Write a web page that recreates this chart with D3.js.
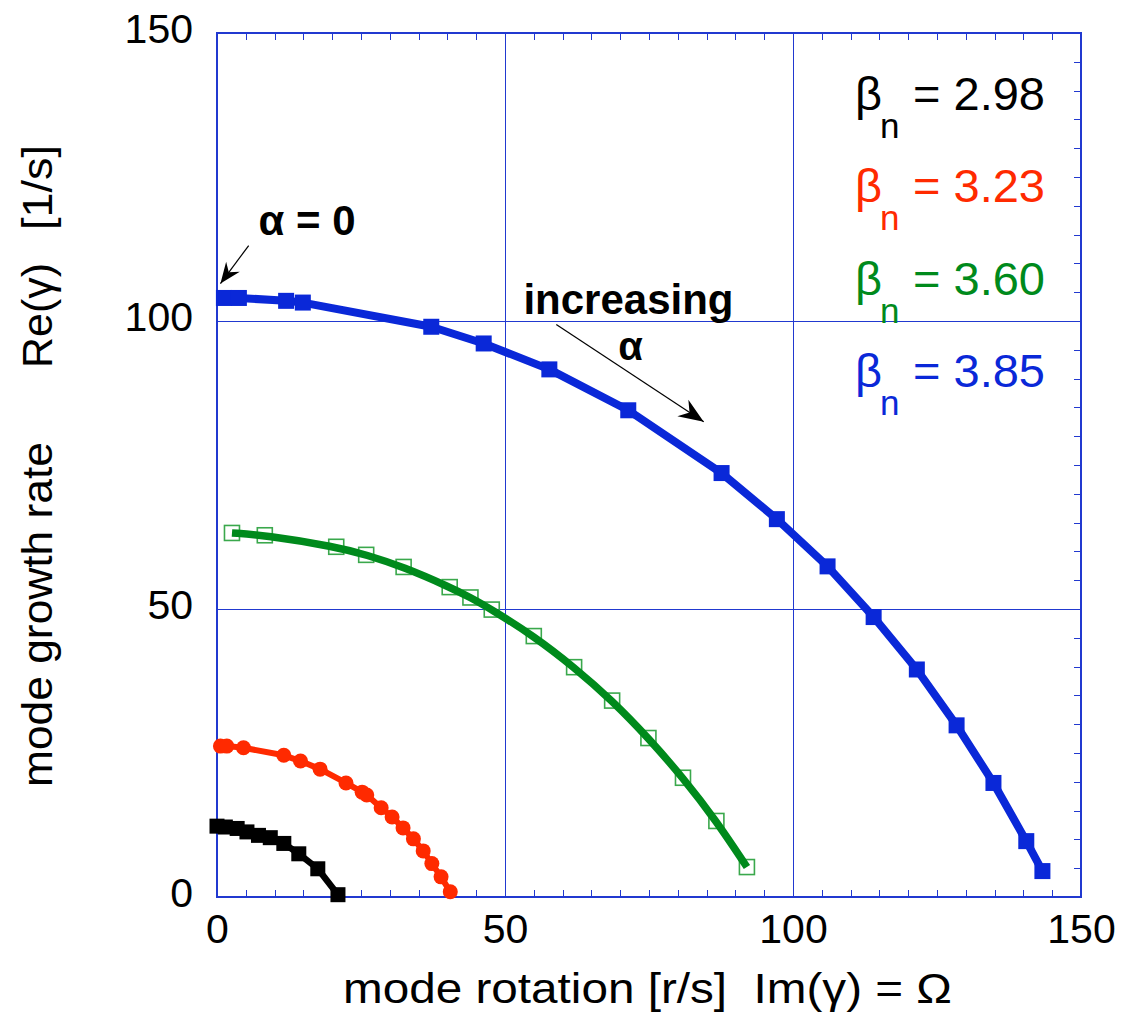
<!DOCTYPE html>
<html>
<head>
<meta charset="utf-8">
<script src="https://cdn.jsdelivr.net/npm/d3@7"></script>
<style>
  html, body { margin: 0; padding: 0; background: #fff; }
  svg { display: block; }
  text { font-family: "Liberation Sans", Arial, Helvetica, sans-serif; }
</style>
</head>
<body>
<svg id="chart" width="1125" height="1016"></svg>
<script>
// Growth rate vs. rotation of the mode for four normalized beta values
const xTicks = [0, 50, 100, 150];
const yTicks = [0, 50, 100, 150];
const gridValues = [50, 100];

// beta_n = 2.98 (black, filled squares)
const omega298 = [0, 1.45, 3.5, 5.2, 7.2, 9.25, 11.6, 14.2, 17.5, 21.0];
const growth298 = [12.3, 12.15, 11.9, 11.3, 10.7, 10.3, 9.3, 7.5, 4.9, 0.4];

// beta_n = 3.23 (red, filled circles)
const omega323 = [0.6, 1.7, 4.6, 11.6, 14.5, 17.9, 22.4, 25.2, 26.0, 28.5, 30.4, 32.3, 34.1, 35.8, 37.3, 38.9, 40.5];
const growth323 = [26.2, 26.2, 25.9, 24.6, 23.6, 22.2, 19.8, 18.2, 17.7, 15.5, 13.9, 12.0, 10.1, 8.0, 5.8, 3.5, 0.9];

// beta_n = 3.60 (green, open squares, smooth curve)
const omega360 = [2.6, 8.3, 20.7, 25.9, 32.4, 40.4, 44.0, 47.7, 55.0, 62.0, 68.6, 74.9, 80.9, 86.7, 92.0];
const growth360 = [63.2, 62.8, 60.8, 59.4, 57.3, 53.8, 52.0, 49.9, 45.3, 39.9, 34.1, 27.6, 20.7, 13.2, 5.2];

// beta_n = 3.85 (blue, filled squares)
const omega385 = [1.2, 3.8, 12.0, 14.9, 37.2, 46.3, 57.7, 71.4, 87.6, 97.2, 106.0, 114.0, 121.5, 128.4, 134.8, 140.5, 143.3];
const growth385 = [104.0, 104.0, 103.5, 103.2, 99.0, 96.1, 91.6, 84.5, 73.6, 65.6, 57.4, 48.6, 39.5, 29.8, 19.8, 9.7, 4.5];

const legendLabels = ["2.98", "3.23", "3.60", "3.85"];

const BLUE_AXIS = "#2139d0";
const C_BLACK = "#000000";
const C_RED = "#ff2a00";
const C_GREEN = "#008a1c";
const C_BLUE = "#0a28d8";

const margin = { left: 217, top: 33 };
const W = 864, H = 864;

const svg = d3.select("#chart");
const g = svg.append("g").attr("transform", `translate(${margin.left},${margin.top})`);

const x = d3.scaleLinear().domain([0, 150]).range([0, W]);
const y = d3.scaleLinear().domain([0, 150]).range([H, 0]);

// grid lines
g.selectAll(".vgrid").data(gridValues).join("line")
  .attr("x1", d => x(d)).attr("x2", d => x(d)).attr("y1", 0).attr("y2", H)
  .attr("stroke", BLUE_AXIS).attr("stroke-width", 1).attr("shape-rendering", "crispEdges");
g.selectAll(".hgrid").data(gridValues).join("line")
  .attr("y1", d => y(d)).attr("y2", d => y(d)).attr("x1", 0).attr("x2", W)
  .attr("stroke", BLUE_AXIS).attr("stroke-width", 1).attr("shape-rendering", "crispEdges");

// minor ticks (inside) on top, bottom and right
const minor = d3.range(5, 150, 5);
const tickLen = 7;
const axTop = d3.axisBottom(x).tickValues(minor).tickSize(tickLen).tickFormat("");
const axBottom = d3.axisTop(x).tickValues(minor).tickSize(tickLen).tickFormat("");
const axRight = d3.axisLeft(y).tickValues(minor).tickSize(tickLen).tickFormat("");
[[axTop, `translate(0,0)`], [axBottom, `translate(0,${H})`], [axRight, `translate(${W},0)`]].forEach(([ax, tr]) => {
  const a = g.append("g").attr("transform", tr).call(ax);
  a.select(".domain").remove();
  a.selectAll("line").attr("stroke", BLUE_AXIS).attr("stroke-width", 1)
    .attr("shape-rendering", "crispEdges");
});

// frame
g.append("rect").attr("x", 0).attr("y", 0).attr("width", W).attr("height", H)
  .attr("fill", "none").attr("stroke", BLUE_AXIS).attr("stroke-width", 2)
  .attr("shape-rendering", "crispEdges");

// tick labels
const labelSize = 41;
const xl = g.append("g").attr("transform", `translate(0,${H})`)
  .call(d3.axisBottom(x).tickValues(xTicks).tickSize(0).tickPadding(0));
xl.select(".domain").remove();
xl.selectAll("text").attr("font-size", labelSize).attr("fill", "#000")
  .attr("font-family", "Liberation Sans, Arial, sans-serif")
  .attr("dy", null).attr("y", 46);

const yl = g.append("g")
  .call(d3.axisLeft(y).tickValues(yTicks).tickSize(0).tickPadding(0));
yl.select(".domain").remove();
yl.selectAll("text").attr("font-size", labelSize).attr("fill", "#000")
  .attr("font-family", "Liberation Sans, Arial, sans-serif")
  .attr("dy", null).attr("x", -24).attr("y", 9);

// axis titles
svg.append("text").attr("x", 343).attr("y", 1003)
  .attr("font-size", 42).attr("fill", "#000")
  .attr("textLength", 609).attr("lengthAdjust", "spacingAndGlyphs")
  .style("white-space", "pre")
  .text("mode rotation [r/s]  Im(\u03b3) = \u03a9");

const yTitle = [
  { t: "mode growth rate", at: 787, len: 345 },
  { t: "Re(\u03b3)", at: 368, len: 105 },
  { t: "[1/s]", at: 230, len: 85 }
];
svg.selectAll(".ytitle").data(yTitle).join("text")
  .attr("transform", d => `translate(52,${d.at}) rotate(-90)`)
  .attr("font-size", 42).attr("fill", "#000")
  .attr("textLength", d => d.len).attr("lengthAdjust", "spacingAndGlyphs")
  .text(d => d.t);

// series
const series = [
  { om: omega298, gr: growth298, color: C_BLACK, shape: "square", size: 15, width: 6.5, curve: d3.curveLinear },
  { om: omega323, gr: growth323, color: C_RED, shape: "circle", size: 15, width: 6, curve: d3.curveLinear },
  { om: omega360, gr: growth360, color: C_GREEN, shape: "open", size: 15, width: 7.5, curve: d3.curveBasis },
  { om: omega385, gr: growth385, color: C_BLUE, shape: "square", size: 16, width: 8, curve: d3.curveLinear }
];

const plot = g.append("g");
series.forEach(s => {
  const pts = s.om.map((v, i) => [v, s.gr[i]]);
  const line = d3.line().x(d => x(d[0])).y(d => y(d[1])).curve(s.curve);
  const sg = plot.append("g");
  if (s.shape === "open") {
    sg.selectAll("rect").data(pts).join("rect")
      .attr("x", d => x(d[0]) - s.size / 2).attr("y", d => y(d[1]) - s.size / 2)
      .attr("width", s.size).attr("height", s.size)
      .attr("fill", "none").attr("stroke", "#3aa84c").attr("stroke-width", 1.6);
    sg.append("path").attr("d", line(pts)).attr("fill", "none")
      .attr("stroke", s.color).attr("stroke-width", s.width);
  } else {
    sg.append("path").attr("d", line(pts)).attr("fill", "none")
      .attr("stroke", s.color).attr("stroke-width", s.width).attr("stroke-linejoin", "round");
    if (s.shape === "square") {
      sg.selectAll("rect").data(pts).join("rect")
        .attr("x", d => x(d[0]) - s.size / 2).attr("y", d => y(d[1]) - s.size / 2)
        .attr("width", s.size).attr("height", s.size).attr("fill", s.color);
    } else {
      sg.selectAll("circle").data(pts).join("circle")
        .attr("cx", d => x(d[0])).attr("cy", d => y(d[1])).attr("r", s.size / 2)
        .attr("fill", s.color);
    }
  }
});

// legend
const legendColors = [C_BLACK, C_RED, C_GREEN, C_BLUE];
const lg = svg.append("g");
legendLabels.forEach((lab, i) => {
  const by = 110 + i * 92.3;
  lg.append("text").attr("x", 855).attr("y", by).attr("font-size", 47)
    .attr("fill", legendColors[i]).text("\u03b2");
  lg.append("text").attr("x", 880).attr("y", by + 28).attr("font-size", 35)
    .attr("fill", legendColors[i]).text("n");
  lg.append("text").attr("x", 913).attr("y", by).attr("font-size", 47)
    .attr("fill", legendColors[i]).text("= " + lab);
});

// annotations
const defs = svg.append("defs");
defs.append("marker").attr("id", "head").attr("viewBox", "-26 -11 28 22")
  .attr("refX", 0).attr("refY", 0).attr("markerWidth", 28).attr("markerHeight", 22)
  .attr("markerUnits", "userSpaceOnUse").attr("orient", "auto")
  .append("path").attr("d", "M0,0 L-25,-10 L-17,0 L-25,10 Z").attr("fill", "#000");
defs.append("marker").attr("id", "headSmall").attr("viewBox", "-22 -9 24 18")
  .attr("refX", 0).attr("refY", 0).attr("markerWidth", 24).attr("markerHeight", 18)
  .attr("markerUnits", "userSpaceOnUse").attr("orient", "auto")
  .append("path").attr("d", "M0,0 L-21,-8.5 L-14,0 L-21,8.5 Z").attr("fill", "#000");

g.append("line").attr("x1", x(5.5)).attr("y1", y(113.1)).attr("x2", x(0.6)).attr("y2", y(106.5))
  .attr("stroke", "#000").attr("stroke-width", 1.2).attr("marker-end", "url(#headSmall)");
g.append("text").attr("x", x(7.2)).attr("y", y(114.9)).attr("font-size", 42)
  .attr("font-weight", "bold").attr("fill", "#000").style("white-space", "pre").text("\u03b1 = 0");

g.append("line").attr("x1", x(58.9)).attr("y1", y(99.4)).attr("x2", x(84.5)).attr("y2", y(82.5))
  .attr("stroke", "#000").attr("stroke-width", 1.2).attr("marker-end", "url(#head)");
g.append("text").attr("x", x(53.2)).attr("y", y(101.3)).attr("font-size", 42)
  .attr("font-weight", "bold").attr("fill", "#000").text("increasing");
g.append("text").attr("x", x(71.8)).attr("y", y(93.2)).attr("font-size", 40)
  .attr("text-anchor", "middle").attr("font-weight", "bold").attr("fill", "#000").text("\u03b1");
</script>
</body>
</html>
